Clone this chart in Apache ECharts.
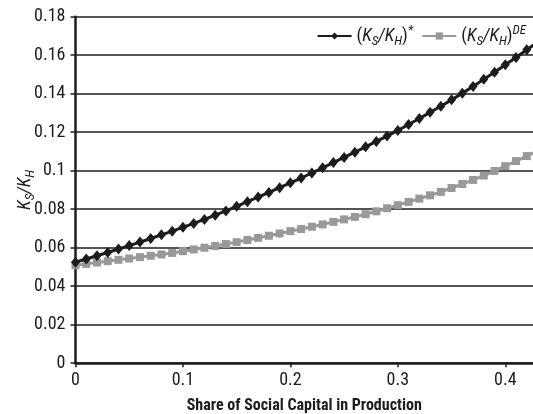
<!DOCTYPE html>
<html>
<head>
<meta charset="utf-8">
<style>
  html, body { margin: 0; padding: 0; background: #fff; }
  #chart { width: 533px; height: 414px; }
</style>
<script src="https://cdn.jsdelivr.net/npm/echarts@6/dist/echarts.min.js"></script>
</head>
<body>
<div id="chart"></div>
<script>
// Share of social capital in production (x values)
const shares = [0.00, 0.01, 0.02, 0.03, 0.04, 0.05, 0.06, 0.07, 0.08, 0.09,
  0.10, 0.11, 0.12, 0.13, 0.14, 0.15, 0.16, 0.17, 0.18, 0.19,
  0.20, 0.21, 0.22, 0.23, 0.24, 0.25, 0.26, 0.27, 0.28, 0.29,
  0.30, 0.31, 0.32, 0.33, 0.34, 0.35, 0.36, 0.37, 0.38, 0.39,
  0.40, 0.41, 0.42, 0.43];

// Optimal ratio (K_S/K_H)*
const ratioOptimal = [0.0525, 0.0541, 0.0558, 0.0575, 0.0593, 0.0611, 0.0629, 0.0648, 0.0667, 0.0686,
  0.0706, 0.0726, 0.0747, 0.0769, 0.0791, 0.0815, 0.0839, 0.0863, 0.0887, 0.0912,
  0.0937, 0.0962, 0.0988, 0.1015, 0.1042, 0.1069, 0.1096, 0.1124, 0.1152, 0.1180,
  0.1209, 0.1240, 0.1271, 0.1303, 0.1335, 0.1368, 0.1402, 0.1438, 0.1475, 0.1512,
  0.1550, 0.1588, 0.1628, 0.1668];

// Decentralized-equilibrium ratio (K_S/K_H)^DE
const ratioDE = [0.0509, 0.0516, 0.0523, 0.0530, 0.0537, 0.0544, 0.0551, 0.0558, 0.0565, 0.0573,
  0.0582, 0.0591, 0.0600, 0.0609, 0.0619, 0.0629, 0.0640, 0.0651, 0.0662, 0.0674,
  0.0686, 0.0697, 0.0709, 0.0721, 0.0734, 0.0747, 0.0760, 0.0774, 0.0789, 0.0805,
  0.0821, 0.0838, 0.0855, 0.0872, 0.0890, 0.0910, 0.0931, 0.0952, 0.0975, 0.0999,
  0.1024, 0.1050, 0.1076, 0.1103];

const xTicks = [0, 0.1, 0.2, 0.3, 0.4];
const seriesNames = ['(KS/KH)*', '(KS/KH)DE'];

const FONT = '"Liberation Sans Narrow", "Arial Narrow", "Roboto Condensed", "Liberation Sans", sans-serif';
const INK = '#1c1c1c';

function pairs(xs, ys) {
  return xs.map((x, i) => [x, ys[i]]);
}

// rich-text styles for K with sub/superscripts
function richStyles(size) {
  const small = Math.round(size * 0.72);
  const lh = size + 6;
  return {
    p: { fontFamily: FONT, fontSize: size, color: INK, lineHeight: lh },
    k: { fontFamily: FONT, fontSize: size, fontStyle: 'italic', color: INK, lineHeight: lh },
    sub: { fontFamily: FONT, fontSize: small, fontStyle: 'italic', color: INK, lineHeight: small, verticalAlign: 'bottom' },
    sup: { fontFamily: FONT, fontSize: small, fontStyle: 'italic', color: INK, lineHeight: small, verticalAlign: 'top' }
  };
}

const chart = echarts.init(document.getElementById('chart'), null, { renderer: 'canvas' });

chart.setOption({
  animation: false,
  backgroundColor: '#fff',
  textStyle: { fontFamily: FONT },
  grid: { left: 75.5, right: 0, top: 16.7, bottom: 50.8, containLabel: false, outerBoundsMode: 'none' },
  legend: {
    data: seriesNames,
    right: 2,
    top: 19,
    itemWidth: 34,
    itemHeight: 9,
    itemGap: 8,
    formatter: function (name) {
      if (name === seriesNames[0]) return '{p|(}{k|K}{sub|S}{k|/K}{sub|H}{p|)}{sup|*}';
      return '{p|(}{k|K}{sub|S}{k|/K}{sub|H}{p|)}{sup|DE}';
    },
    textStyle: { rich: richStyles(18) }
  },
  xAxis: {
    type: 'value',
    min: 0,
    max: 0.4258,
    interval: 0.1,
    name: 'Share of Social Capital in Production',
    nameLocation: 'middle',
    nameGap: 35,
    nameMoveOverlap: false,
    nameTextStyle: { fontFamily: FONT, fontSize: 16, fontWeight: 'bold', color: INK },
    axisLine: { onZero: false, lineStyle: { color: INK, width: 2.5 } },
    axisTick: { show: true, length: 4, lineStyle: { color: INK, width: 1.5 }, customValues: xTicks },
    axisLabel: { fontFamily: FONT, fontSize: 18, color: INK, margin: 8, customValues: xTicks },
    splitLine: { show: false }
  },
  yAxis: {
    type: 'value',
    min: 0,
    max: 0.18,
    interval: 0.02,
    name: '{k|K}{sub|S}{k|/K}{sub|H}',
    nameLocation: 'middle',
    nameGap: 38,
    nameRotate: 90,
    nameMoveOverlap: false,
    nameTextStyle: { rich: richStyles(18) },
    axisLine: { show: true, lineStyle: { color: INK, width: 2.5 } },
    axisTick: { show: true, length: 5, lineStyle: { color: INK, width: 1.5 } },
    axisLabel: { fontFamily: FONT, fontSize: 18, color: INK, margin: 10 },
    splitLine: { show: true, lineStyle: { color: INK, width: 1.6 } }
  },
  series: [
    {
      name: seriesNames[0],
      type: 'line',
      data: pairs(shares, ratioOptimal),
      symbol: 'diamond',
      symbolSize: [9, 11],
      showAllSymbol: true,
      clip: true,
      z: 3,
      lineStyle: { color: INK, width: 3 },
      itemStyle: { color: INK, borderWidth: 0 }
    },
    {
      name: seriesNames[1],
      type: 'line',
      data: pairs(shares, ratioDE),
      symbol: 'rect',
      symbolSize: 8,
      showAllSymbol: true,
      clip: true,
      z: 2,
      lineStyle: { color: '#999999', width: 3 },
      itemStyle: { color: '#999999', borderWidth: 0 }
    }
  ]
});
</script>
</body>
</html>
